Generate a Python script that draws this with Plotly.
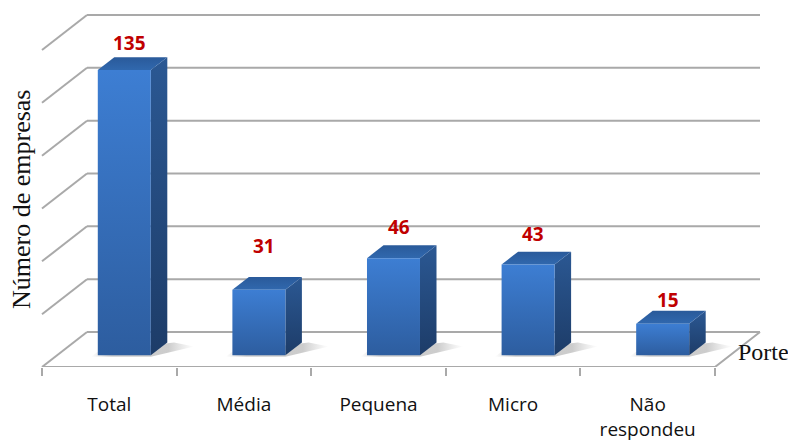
import plotly.graph_objects as go

# ---------------- data ----------------
categories = ["Total", "Média", "Pequena", "Micro", "Não<br>respondeu"]
values = [135, 31, 46, 43, 15]
grid_values = [0, 25, 50, 75, 100, 125, 150]
y_title = "Número de empresas"
x_title = "Porte"

# ---------------- layout geometry ----------------
W, H = 788, 442
PLOT_H = 367                      # plot area height (front floor at bottom)
PX_X = 134.6                      # pixels per category
PX_V = 317 / 150                  # pixels per value unit
LEFT_PX = 42                      # front-left corner of floor
x_range = [-0.5 - LEFT_PX / PX_X, -0.5 + (W - LEFT_PX) / PX_X]
y_range = [0, PLOT_H / PX_V]

DX = 45 / PX_X                    # depth vector in data units
DV = 35 / PX_V
D0, D1 = 0.333, 0.70              # bar front/back depth fractions
HW = 26.5 / PX_X                  # half bar width

n = len(categories)
x_left, x_right = -0.5, n - 0.5
GRID = "#a9a9a9"

fig = go.Figure()

# left wall diagonals + back wall gridlines
wx, wy, gx, gy = [], [], [], []
for g in grid_values:
    wx += [x_left, x_left + DX, None]
    wy += [g, g + DV, None]
    gx += [x_left + DX, x_right + DX, None]
    gy += [g + DV, g + DV, None]
# floor front edge and right edge
fx = [x_left, x_right, x_right + DX]
fy = [0, 0, DV]
for xs, ys in ((wx, wy), (gx, gy), (fx, fy)):
    fig.add_trace(go.Scatter(x=xs, y=ys, mode="lines",
                             line=dict(color=GRID, width=2),
                             hoverinfo="skip", showlegend=False))

def poly(xs, ys, orient, scale):
    fig.add_trace(go.Scatter(
        x=xs + [xs[0]], y=ys + [ys[0]], mode="lines", fill="toself",
        line=dict(width=0, color="rgba(0,0,0,0)"),
        fillgradient=dict(type=orient, colorscale=scale),
        hoverinfo="skip", showlegend=False))

for i, v in enumerate(values):
    c = i
    xl0, xr0 = c - HW + D0 * DX, c + HW + D0 * DX
    xl1, xr1 = c - HW + D1 * DX, c + HW + D1 * DX
    b0, b1 = D0 * DV, D1 * DV
    # floor shadow
    poly([xl0 - 0.05, xr0, xr1 + 0.2, xr1 + 0.05, xl0],
         [b0 - 0.04 * DV, b0 - 0.04 * DV, b0 + 0.25 * DV, b1, b0 + 0.1 * DV],
         "horizontal",
         [[0, "rgba(120,120,120,0.0)"], [0.2, "rgba(110,110,110,0.35)"],
          [0.75, "rgba(110,110,110,0.35)"], [1, "rgba(140,140,140,0)"]])
    # side face
    poly([xr0, xr1, xr1, xr0], [b0, b1, v + b1, v + b0], "vertical",
         [[0, "#1d3c68"], [1, "#2b5893"]])
    # top face
    poly([xl0, xr0, xr1, xl1], [v + b0, v + b0, v + b1, v + b1], "vertical",
         [[0, "#3068ae"], [1, "#2a5a9a"]])
    # front face
    poly([xl0, xr0, xr0, xl0], [b0, b0, v + b0, v + b0], "vertical",
         [[0, "#2d5d9f"], [1, "#3d7ed3"]])

# data labels
label_lift = [14, 31, 18, 18, 11]
for i, v in enumerate(values):
    fig.add_annotation(x=i + 0.45 * DX, y=v + D1 * DV, text=str(v),
                       showarrow=False, yanchor="middle", yshift=label_lift[i],
                       font=dict(family="Open Sans", size=19, color="#c00000",
                                 weight="bold"))

fig.add_annotation(xref="paper", yref="paper", x=21 / W, y=(367 - 200) / PLOT_H,
                   text=y_title, textangle=-90, showarrow=False,
                   xanchor="center", yanchor="middle",
                   font=dict(family="Liberation Serif", size=26, color="#111"))
fig.add_annotation(xref="paper", yref="paper", x=736 / W, y=(367 - 352) / PLOT_H,
                   text=x_title, showarrow=False,
                   xanchor="left", yanchor="middle",
                   font=dict(family="Liberation Serif", size=24, color="#111"))

fig.update_layout(
    width=W, height=H,
    margin=dict(l=0, r=0, t=0, b=H - PLOT_H),
    plot_bgcolor="white", paper_bgcolor="white",
    showlegend=False,
    xaxis=dict(range=x_range, tickmode="array", tickvals=list(range(n)),
               ticktext=categories, ticks="", showgrid=False, zeroline=False,
               showline=False, ticklabelstandoff=24,
               tickfont=dict(family="Open Sans", size=19, color="#111"),
               minor=dict(tickmode="array",
                          tickvals=[k - 0.5 for k in range(n + 1)],
                          ticks="outside", ticklen=8, tickwidth=2,
                          tickcolor=GRID, showgrid=False),
               fixedrange=True),
    yaxis=dict(range=y_range, visible=False, fixedrange=True),
)

fig.write_html("out.html")
